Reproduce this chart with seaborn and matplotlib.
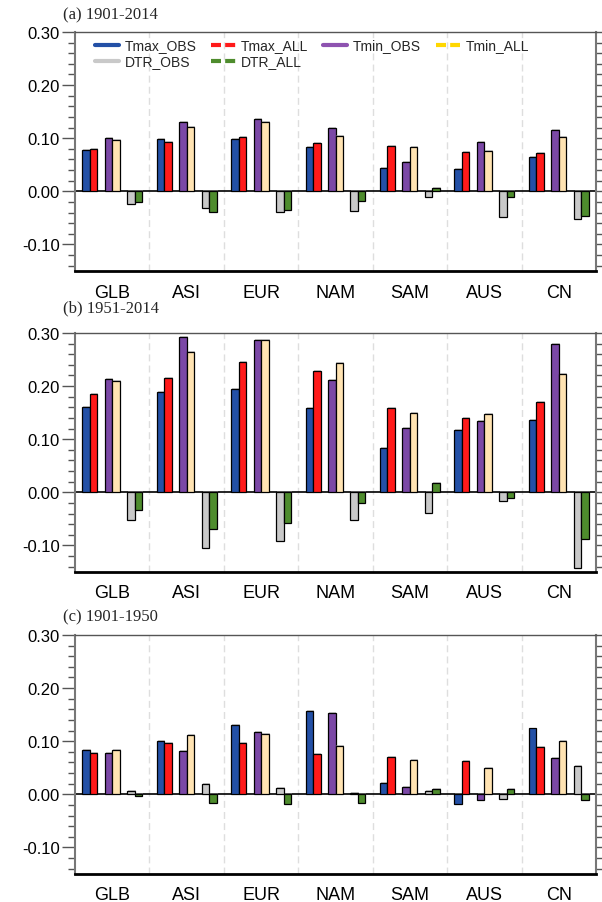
import numpy as np
import pandas as pd
import matplotlib
matplotlib.use("Agg")
import matplotlib.pyplot as plt
import matplotlib.patheffects as pe
import seaborn as sns
from matplotlib.lines import Line2D
from matplotlib.ticker import MultipleLocator, FormatStrFormatter

sns.set_style("white")
plt.rcParams['font.family'] = ['Liberation Sans', 'DejaVu Sans']
plt.rcParams['axes.unicode_minus'] = False

regions = ["GLB", "ASI", "EUR", "NAM", "SAM", "AUS", "CN"]
series = ["Tmax_OBS", "Tmax_ALL", "Tmin_OBS", "Tmin_ALL", "DTR_OBS", "DTR_ALL"]
titles = ["(a) 1901-2014", "(b) 1951-2014", "(c) 1901-1950"]

# Panel (a) 1901-2014
tmax_obs_a = [0.077, 0.098, 0.099, 0.083, 0.044, 0.042, 0.064]
tmax_all_a = [0.080, 0.092, 0.102, 0.091, 0.085, 0.075, 0.072]
tmin_obs_a = [0.101, 0.130, 0.137, 0.120, 0.056, 0.092, 0.116]
tmin_all_a = [0.096, 0.122, 0.130, 0.105, 0.083, 0.076, 0.102]
dtr_obs_a = [-0.024, -0.032, -0.039, -0.037, -0.011, -0.049, -0.052]
dtr_all_a = [-0.020, -0.039, -0.035, -0.018, 0.006, -0.010, -0.046]

# Panel (b) 1951-2014
tmax_obs_b = [0.161, 0.189, 0.194, 0.159, 0.083, 0.118, 0.137]
tmax_all_b = [0.185, 0.216, 0.246, 0.229, 0.159, 0.140, 0.170]
tmin_obs_b = [0.213, 0.292, 0.286, 0.212, 0.121, 0.134, 0.279]
tmin_all_b = [0.209, 0.265, 0.286, 0.244, 0.149, 0.148, 0.222]
dtr_obs_b = [-0.053, -0.104, -0.092, -0.053, -0.038, -0.016, -0.142]
dtr_all_b = [-0.034, -0.069, -0.057, -0.021, 0.018, -0.010, -0.087]

# Panel (c) 1901-1950
tmax_obs_c = [0.084, 0.101, 0.131, 0.157, 0.021, -0.019, 0.124]
tmax_all_c = [0.077, 0.096, 0.096, 0.076, 0.071, 0.062, 0.089]
tmin_obs_c = [0.077, 0.081, 0.117, 0.154, 0.014, -0.011, 0.069]
tmin_all_c = [0.083, 0.111, 0.113, 0.091, 0.064, 0.049, 0.101]
dtr_obs_c = [0.006, 0.019, 0.012, 0.002, 0.006, -0.009, 0.054]
dtr_all_c = [-0.004, -0.016, -0.019, -0.017, 0.010, 0.010, -0.011]

panels = [
    [tmax_obs_a, tmax_all_a, tmin_obs_a, tmin_all_a, dtr_obs_a, dtr_all_a],
    [tmax_obs_b, tmax_all_b, tmin_obs_b, tmin_all_b, dtr_obs_b, dtr_all_b],
    [tmax_obs_c, tmax_all_c, tmin_obs_c, tmin_all_c, dtr_obs_c, dtr_all_c],
]

# hue slots (gap slots separate the pairs)
slots = ["Tmax_OBS", "Tmax_ALL", "gap1", "Tmin_OBS", "Tmin_ALL", "gap2", "DTR_OBS", "DTR_ALL"]
bar_colors = {"Tmax_OBS": "#2350a6", "Tmax_ALL": "#ff1a1a", "Tmin_OBS": "#7b48a6",
              "Tmin_ALL": "#ffe3b2", "DTR_OBS": "#c9c9c9", "DTR_ALL": "#4e8c2d",
              "gap1": "white", "gap2": "white"}
legend_colors = {"Tmax_OBS": "#2350a6", "Tmax_ALL": "#ff1a1a", "Tmin_OBS": "#8e53b0",
                 "Tmin_ALL": "#ffd700", "DTR_OBS": "#c9c9c9", "DTR_ALL": "#4e8c2d"}
# matplotlib fills legend columns first; this order gives the rows of the reference
legend_order = ["Tmax_OBS", "DTR_OBS", "Tmax_ALL", "DTR_ALL", "Tmin_OBS", "Tmin_ALL"]

W, H = 602, 903
fig = plt.figure(figsize=(6.02, 9.03), dpi=100)
ax_tops = [33, 334, 636]
ax_h = 239
ax_left, ax_right = 75, 596
title_y = [15, 308, 617]

for i, vals in enumerate(panels):
    top = ax_tops[i]
    ax = fig.add_axes([ax_left / W, 1 - (top + ax_h) / H, (ax_right - ax_left) / W, ax_h / H])
    rows = []
    for s, v in zip(series, vals):
        for r, val in zip(regions, v):
            rows.append({"region": r, "series": s, "value": val})
    df = pd.DataFrame(rows)

    for x in np.arange(0.5, 6.5, 1.0):
        ax.axvline(x, color="#dedede", ls=(0, (5, 3)), lw=1.0, zorder=0)
    ax.axhline(0, color="black", lw=1.2, zorder=0.6)

    sns.barplot(data=df, x="region", y="value", hue="series", hue_order=slots,
                order=regions, palette=bar_colors, width=0.805, dodge=True,
                edgecolor="black", linewidth=0.9, saturation=1, errorbar=None,
                legend=False, ax=ax)
    for p in ax.patches:
        p.set_path_effects([pe.SimplePatchShadow(offset=(0.7, 0.7), shadow_rgbFace="#999999", alpha=0.5),
                            pe.Normal()])
        p.set_zorder(2)

    ax.set_xlim(-0.5, 6.5)
    ax.set_ylim(-0.15, 0.30)
    ax.yaxis.set_major_locator(MultipleLocator(0.1))
    ax.yaxis.set_minor_locator(MultipleLocator(0.02))
    ax.yaxis.set_major_formatter(FormatStrFormatter("%.2f"))
    ax.tick_params(axis="y", which="major", direction="out", length=9.5, width=1.0,
                   color="#555555", left=True, right=True, labelright=False,
                   labelsize=12, pad=1.5, labelcolor="black")
    ax.tick_params(axis="y", which="minor", direction="out", length=5, width=1.0,
                   color="#555555", left=True, right=True)
    ax.tick_params(axis="x", length=0, pad=9, labelsize=13, labelcolor="black")
    ax.set_xlabel("")
    ax.set_ylabel("")

    for side in ["left", "right"]:
        ax.spines[side].set_color("#777777")
        ax.spines[side].set_linewidth(1.5)
    ax.spines["top"].set_color("#555555")
    ax.spines["top"].set_linewidth(1.0)
    ax.spines["bottom"].set_color("black")
    ax.spines["bottom"].set_linewidth(2.0)

    fig.text(63 / W, 1 - title_y[i] / H, titles[i], ha="left", va="center",
             fontsize=12, family=["Liberation Serif", "DejaVu Serif"])

    if i == 0:
        handles = []
        for s in legend_order:
            ls = (0, (2.4, 1.0)) if s.endswith("ALL") else "-"
            handles.append(Line2D([0], [0], color=legend_colors[s], lw=3, ls=ls))
        ax.legend(handles, legend_order, loc="upper left", bbox_to_anchor=(0.033, 0.985),
                  ncol=4, frameon=False, fontsize=10, handlelength=1.75,
                  handletextpad=0.4, columnspacing=1.05, labelspacing=0.15,
                  borderaxespad=0, borderpad=0.2)

fig.savefig("out.png", dpi=100)
